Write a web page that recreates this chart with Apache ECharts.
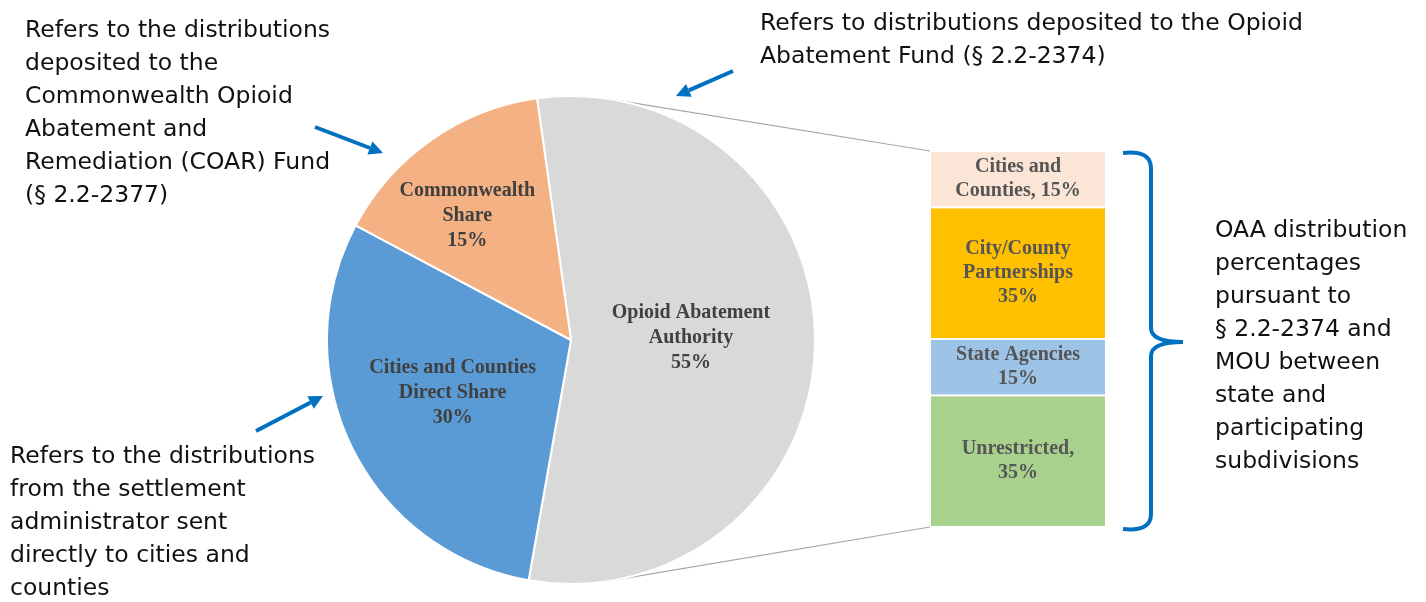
<!DOCTYPE html>
<html>
<head>
<meta charset="utf-8">
<script src="https://cdn.jsdelivr.net/npm/echarts@6/dist/echarts.min.js"></script>
<style>html,body{margin:0;padding:0;background:#fff;}#c{width:1426px;height:602px;}</style>
</head>
<body>
<div id="c"></div>
<script>
// ---- data ----
var pieNames = ['Opioid Abatement\nAuthority', 'Cities and Counties\nDirect Share', 'Commonwealth\nShare'];
var pieValues = [55, 30, 15];
var pieColors = ['#D9D9D9', '#5B9BD5', '#F4B183'];

var barNames = ['Unrestricted,', 'State Agencies', 'City/County\nPartnerships', 'Cities and\nCounties,'];
var barValues = [35, 15, 35, 15];
var barColors = ['#A9D18E', '#9DC3E6', '#FFC000', '#FBE5D6'];
var barSep = ['\n', '\n', '\n', ' '];

var noteTopLeft = 'Refers to the distributions\ndeposited to the\nCommonwealth Opioid\nAbatement and\nRemediation (COAR) Fund\n(§ 2.2-2377)';
var noteTop = 'Refers to distributions deposited to the Opioid\nAbatement Fund (§ 2.2-2374)';
var noteBottomLeft = 'Refers to the distributions\nfrom the settlement\nadministrator sent\ndirectly to cities and\ncounties';
var noteRight = 'OAA distribution\npercentages\npursuant to\n§ 2.2-2374 and\nMOU between\nstate and\nparticipating\nsubdivisions';

var chart = echarts.init(document.getElementById('c'));

var pieData = pieNames.map(function (n, i) {
  return { name: n, value: pieValues[i], itemStyle: { color: pieColors[i] } };
});

var serifFont = '"Liberation Serif", "DejaVu Serif", serif';
var sansFont = '"DejaVu Sans", Verdana, sans-serif';
var blue = '#0070C0';

var barSeries = barValues.map(function (v, i) {
  return {
    type: 'bar',
    stack: 'oaa',
    name: barNames[i],
    data: [v],
    barWidth: '100%',
    itemStyle: { color: barColors[i], borderColor: '#fff', borderWidth: 1 },
    label: {
      show: true,
      position: 'inside',
      fontFamily: serifFont,
      fontWeight: 'bold',
      fontSize: 20,
      lineHeight: 24,
      color: '#555555',
      formatter: function () { return barNames[i] + barSep[i] + v + '%'; }
    }
  };
});

// geometry for decorations
var cx = 571, cy = 340, R = 244;
function arrow(x1, y1, x2, y2) {
  var ang = Math.atan2(y2 - y1, x2 - x1);
  var hl = 14, hw = 7;
  var bx = x2 - hl * Math.cos(ang), by = y2 - hl * Math.sin(ang);
  var px = -Math.sin(ang) * hw, py = Math.cos(ang) * hw;
  return [
    { type: 'line', shape: { x1: x1, y1: y1, x2: bx, y2: by }, style: { stroke: blue, lineWidth: 4 } },
    { type: 'polygon', shape: { points: [[x2, y2], [bx + px, by + py], [bx - px, by - py]] }, style: { fill: blue } }
  ];
}
function txt(x, y, s) {
  return { type: 'text', x: x, y: y, style: { text: s, font: '23.5px ' + sansFont, fill: '#111', lineHeight: 33, textAlign: 'left', textVerticalAlign: 'top' } };
}
function curve(x1, y1, cpx, cpy, x2, y2) {
  return { type: 'bezierCurve', shape: { x1: x1, y1: y1, cpx1: cpx, cpy1: cpy, x2: x2, y2: y2 }, style: { stroke: blue, lineWidth: 4, fill: null } };
}
function seg(x1, y1, x2, y2) {
  return { type: 'line', shape: { x1: x1, y1: y1, x2: x2, y2: y2 }, style: { stroke: blue, lineWidth: 4 } };
}
var a1 = 8 * Math.PI / 180;
var graphics = [
  { type: 'line', z: 0, shape: { x1: cx + R * Math.sin(a1), y1: cy - R * Math.cos(a1), x2: 930, y2: 151 }, style: { stroke: '#A6A6A6', lineWidth: 1.2 } },
  { type: 'line', z: 0, shape: { x1: cx + R * Math.sin(a1), y1: cy + R * Math.cos(a1), x2: 930, y2: 527 }, style: { stroke: '#A6A6A6', lineWidth: 1.2 } },
  curve(1123, 153, 1151, 150, 1151, 168),
  seg(1151, 168, 1151, 329),
  curve(1151, 328, 1151, 342, 1183, 342),
  curve(1183, 342, 1151, 342, 1151, 356),
  seg(1151, 355, 1151, 515),
  curve(1151, 514, 1151, 532, 1123, 529),
  txt(25, 14, noteTopLeft),
  txt(760, 7, noteTop),
  txt(10, 440, noteBottomLeft),
  txt(1215, 214, noteRight)
].concat(arrow(315, 127, 383, 153), arrow(733, 71, 676, 96), arrow(256, 431, 323, 396));

chart.setOption({
  animation: false,
  backgroundColor: '#fff',
  grid: { left: 930, top: 151, width: 176, height: 376 },
  xAxis: { type: 'category', data: ['OAA'], show: false },
  yAxis: { type: 'value', min: 0, max: 100, show: false },
  graphic: graphics,
  series: [{
    type: 'pie',
    center: [cx, cy],
    radius: R,
    startAngle: 98,
    clockwise: true,
    data: pieData,
    itemStyle: { borderColor: '#fff', borderWidth: 2 },
    label: {
      show: true,
      position: 'inner',
      fontFamily: serifFont,
      fontWeight: 'bold',
      fontSize: 20,
      lineHeight: 25,
      color: '#404040',
      formatter: function (p) { return p.name + '\n' + p.value + '%'; }
    },
    labelLine: { show: false },
    labelLayout: function (p) {
      if (p.dataIndex === 2) return { dx: -32, dy: -22 };
      if (p.dataIndex === 0) return { dx: -5, dy: -4 };
      if (p.dataIndex === 1) return { dx: -6, dy: -2 };
      return {};
    }
  }].concat(barSeries)
});
</script>
</body>
</html>
